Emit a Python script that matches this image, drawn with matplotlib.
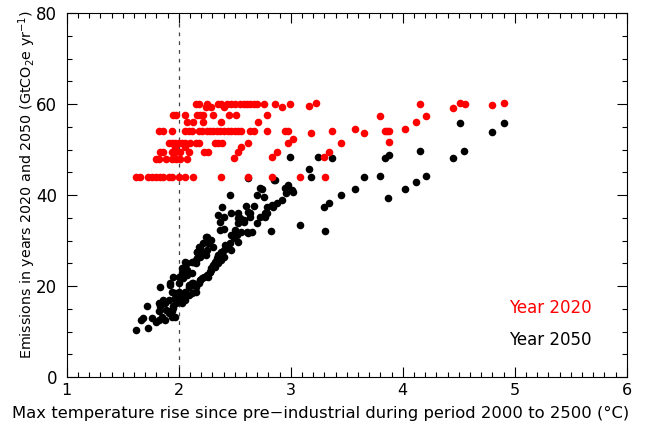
import matplotlib
matplotlib.use('Agg')
import matplotlib.pyplot as plt
from matplotlib.ticker import MultipleLocator

# Year 2020 emissions (red), x = max temperature rise, y = GtCO2e/yr
red_x = [2.15, 2.18, 2.25, 2.35, 2.38, 2.43, 2.47, 2.50, 2.55, 2.58, 2.61, 2.64, 2.67, 2.70, 2.76, 2.86, 2.99, 3.23, 4.15, 4.51, 4.56, 4.90,
         2.24, 2.29, 2.40, 2.92, 3.16, 4.45, 4.80,
         1.95, 1.98, 2.06, 2.16, 2.19, 2.22, 2.31, 2.45, 2.51, 2.79, 3.80, 4.21,
         2.07, 2.13, 2.22, 2.38, 2.71, 4.12,
         1.82, 1.86, 1.94, 2.06, 2.09, 2.12, 2.18, 2.21, 2.25, 2.28, 2.31, 2.34, 2.37, 2.40, 2.44, 2.47, 2.50, 2.53, 2.56,
         2.64, 2.67, 2.79, 2.95, 2.98, 3.18, 3.37, 3.57, 3.65, 3.84, 3.86, 3.88, 4.02,
         3.02, 3.88,
         1.91, 1.94, 1.97, 2.00, 2.03, 2.06, 2.10, 2.15, 2.18, 2.32, 2.35, 2.39, 2.62, 2.98, 3.45,
         1.97, 2.06, 2.56,
         1.83, 1.86, 1.94, 1.97, 2.01, 2.09, 2.23, 2.26, 2.53, 2.88, 3.34,
         1.80, 1.82, 1.89, 1.94, 1.98, 2.01, 2.07, 2.49, 2.83, 3.30,
         1.62, 1.65, 1.73, 1.76, 1.80, 1.83, 1.86, 1.91, 1.94, 2.00, 2.06, 2.13, 2.38, 2.62, 2.83, 3.08, 3.31]
red_y = [60.1, 60.1, 60.1, 60.1, 60.1, 60.1, 60.1, 60.1, 60.1, 60.1, 60.1, 60.1, 60.1, 60.1, 60.1, 60.1, 60.1, 60.3, 60.0, 60.2, 60.1, 60.2,
         59.3, 59.3, 59.3, 59.3, 59.6, 59.2, 59.8,
         57.6, 57.6, 57.6, 57.6, 57.6, 57.6, 57.6, 57.6, 57.6, 57.6, 57.4, 57.4,
         56.0, 56.0, 56.0, 56.0, 56.0, 56.0,
         54.1, 54.1, 54.1, 54.1, 54.1, 54.1, 54.1, 54.1, 54.1, 54.1, 54.1, 54.1, 54.1, 54.1, 54.1, 54.1, 54.1, 54.1, 54.1,
         54.1, 54.1, 54.1, 54.1, 54.1, 53.7, 54.1, 54.4, 53.7, 54.1, 54.1, 54.1, 54.4,
         52.4, 51.7,
         51.5, 51.5, 51.5, 51.5, 51.5, 51.5, 51.5, 51.5, 51.5, 51.5, 51.5, 51.5, 51.5, 51.5, 51.5,
         50.6, 50.6, 50.6,
         49.5, 49.5, 49.5, 49.5, 49.5, 49.5, 49.5, 49.5, 49.5, 49.5, 49.5,
         48.0, 48.0, 48.0, 48.0, 48.0, 48.0, 48.0, 48.1, 48.4, 48.4,
         44.0, 44.0, 44.0, 44.0, 44.0, 44.0, 44.0, 44.0, 44.0, 44.0, 44.0, 44.0, 44.0, 44.0, 44.0, 44.0, 44.0]

# Year 2050 emissions (black)
black_x = [1.62, 1.73, 1.66, 1.68, 1.76, 1.80, 1.82, 1.88, 1.85, 1.72, 1.82, 1.83, 1.82, 1.86, 1.83, 1.89, 1.91, 1.94, 1.95,
           1.88, 1.91, 1.97, 1.98, 1.94, 1.97, 2.00, 1.92, 2.00, 2.00, 2.03, 2.04, 2.07, 2.06, 2.07, 2.07, 2.12, 2.13,
           2.16, 2.15, 2.16, 2.23, 2.25, 1.97, 1.94,
           2.09, 2.12, 2.15, 2.18, 2.19, 2.21, 2.23, 2.25, 2.28, 2.29, 2.32, 2.35, 2.38, 2.40,
           2.01, 2.03, 2.06, 2.09, 2.12, 2.15,
           2.85, 2.98, 2.95, 3.01, 3.02, 2.73, 2.74, 2.70, 2.76, 2.46, 2.92, 2.88, 2.84, 3.08, 2.82, 2.60, 2.67, 2.39,
           2.53, 2.64, 2.47, 2.35, 2.40, 2.79, 2.77, 2.53, 2.58, 2.64, 2.53, 2.37, 2.37, 2.40, 2.50, 2.56, 2.62, 2.65,
           2.47, 2.49, 2.24, 2.29, 2.31, 2.26, 2.18, 2.20, 2.41, 2.46, 2.53, 2.43, 2.47, 2.38, 2.35, 2.34, 2.32, 2.31,
           2.29, 2.24, 2.19, 2.15, 2.12, 2.36, 2.39,
           2.25, 2.22, 2.19, 2.16, 2.06, 2.03, 1.95, 1.92,
           2.55, 2.58, 2.62, 2.70, 2.73, 2.77, 2.79, 2.83, 2.96,
           2.61, 2.52, 2.44, 2.40, 2.37, 2.34, 2.28, 2.26, 2.19, 2.13, 2.09, 2.06, 2.03, 1.98, 1.95, 1.92,
           4.51, 4.90, 4.80, 4.45, 4.55, 4.15, 4.21, 4.12, 4.02, 3.87, 3.88, 3.84, 3.80, 3.65, 3.57, 3.45, 3.34, 3.30,
           3.31, 3.37, 3.24, 2.99, 3.16, 3.18, 2.62, 2.86]
black_y = [10.3, 10.7, 12.5, 12.9, 12.9, 12.2, 12.5, 12.5, 13.3, 15.6, 14.4, 15.5, 16.2, 16.9, 19.8, 14.7, 14.0, 14.4, 15.1,
           16.2, 16.9, 17.3, 16.2, 18.7, 18.4, 18.7, 20.2, 20.6, 22.0, 22.8, 21.7, 22.4, 24.2, 25.0, 23.5, 22.8, 25.3,
           26.1, 25.0, 27.5, 27.2, 27.9, 13.3, 13.3,
           20.2, 20.6, 19.8, 20.6, 21.3, 21.7, 22.0, 22.4, 23.1, 23.5, 24.2, 25.0, 25.7, 26.4,
           17.3, 16.2, 16.9, 18.0, 18.4, 18.7,
           43.4, 42.2, 41.5, 41.1, 40.7, 41.5, 41.3, 40.0, 39.5, 40.0, 38.9, 38.2, 37.4, 33.4, 32.2, 37.6, 37.6, 37.4,
           36.1, 36.1, 36.1, 35.6, 35.2, 36.0, 35.1, 34.9, 34.5, 35.2, 33.9, 34.1, 32.3, 32.5, 32.3, 31.9, 31.7, 31.9,
           31.2, 30.5, 30.8, 30.1, 28.6, 29.5, 28.6, 27.5, 29.0, 29.4, 29.7, 28.3, 27.9, 27.5, 26.8, 26.1, 25.3, 24.6,
           23.9, 26.8, 26.3, 25.7, 25.3, 26.1, 26.7,
           30.8, 29.4, 28.6, 27.5, 25.3, 23.9, 22.0, 20.6,
           34.9, 34.1, 36.3, 33.8, 35.2, 36.0, 37.4, 37.8, 40.4,
           31.9, 31.2, 29.0, 27.9, 26.8, 25.7, 23.1, 22.0, 21.3, 20.6, 19.8, 18.7, 18.0, 16.9, 15.5, 14.4,
           55.8, 55.8, 53.9, 48.1, 49.7, 49.7, 44.2, 42.8, 41.3, 39.3, 48.8, 48.1, 44.2, 44.0, 41.3, 40.1, 38.2, 37.4,
           32.1, 48.1, 48.4, 48.4, 45.7, 44.0, 43.7, 43.3]

fig = plt.figure(figsize=(6.51, 4.25), dpi=100)
ax = fig.add_axes([0.1025, 0.1129, 0.8602, 0.8565])

ax.scatter(black_x, black_y, s=30, color='black', linewidths=0, zorder=3)
ax.scatter(red_x, red_y, s=30, color='#ff0000', linewidths=0, zorder=3)

ax.axvline(2, color='#444444', linewidth=0.9, linestyle=(0, (3, 4)), zorder=1)

ax.set_xlim(1, 6)
ax.set_ylim(0, 80)
ax.xaxis.set_major_locator(MultipleLocator(1))
ax.xaxis.set_minor_locator(MultipleLocator(0.1))
ax.yaxis.set_major_locator(MultipleLocator(20))
ax.yaxis.set_minor_locator(MultipleLocator(5))
ax.tick_params(which='both', direction='in', top=True, right=True, labelsize=12)
ax.tick_params(which='major', length=7.5, width=0.8)
ax.tick_params(which='minor', length=3.5, width=0.8)
ax.tick_params(axis='x', which='major', pad=4, labelsize=11.5)
ax.tick_params(axis='y', which='major', pad=7)

# axis titles placed as in the original (x title centred on the figure)
fig.text(321 / 651, 1 - 413 / 425,
         'Max temperature rise since pre\u2212industrial during period 2000 to 2500 (\u00b0C)',
         fontsize=11.8, ha='center', va='center')
fig.text(27 / 651, 1 - 185 / 425,
         r'Emissions in years 2020 and 2050 (GtCO$_2$e yr$^{-1}$)',
         fontsize=10.3, rotation=90, ha='center', va='center')

ax.text(5.69, 15.2, 'Year 2020', color='#ff0000', fontsize=12, ha='right', va='center')
ax.text(5.69, 8.1, 'Year 2050', color='black', fontsize=12, ha='right', va='center')

fig.savefig('out.png', dpi=100)
